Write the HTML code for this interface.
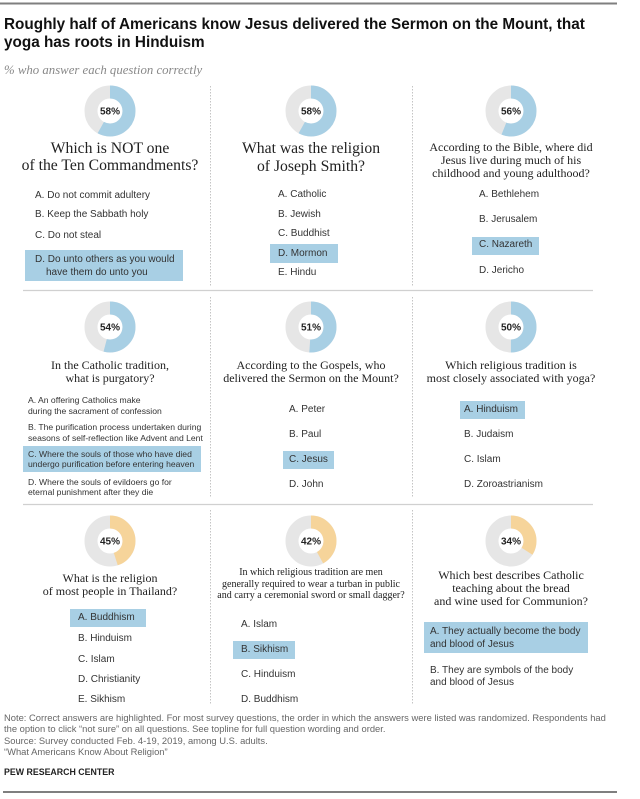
<!DOCTYPE html>
<html><head><meta charset="utf-8">
<style>
html,body{margin:0;padding:0;background:#fff;}
body{width:640px;height:799px;position:relative;overflow:hidden;font-family:"Liberation Sans",Arial,sans-serif;}
.t{position:absolute;white-space:nowrap;height:16px;line-height:16px;}
.c{text-align:center;width:220px;}
.ttl{font-weight:bold;font-size:15.3px;color:#111;left:4px;height:20px;line-height:20px;}
.sub{font-family:"Liberation Serif",serif;font-style:italic;font-size:12.8px;color:#888;left:4px;}
.qb{font-family:"Liberation Serif",serif;font-size:15.7px;color:#222;height:20px;line-height:20px;}
.qm{font-family:"Liberation Serif",serif;font-size:12px;color:#222;}
.qs{font-family:"Liberation Serif",serif;font-size:10px;color:#222;}
.o{font-size:10px;color:#333;}
.os{font-size:8.6px;color:#333;}
.hl{position:absolute;background:#a8cfe4;}
.ft{font-size:9.4px;color:#666;left:4px;}
.pew{font-size:8.8px;font-weight:bold;color:#222;left:4px;}
</style></head><body>

<svg width="640" height="799" style="position:absolute;left:0;top:0">
  <rect x="0" y="2.5" width="617" height="2" fill="#7f7f7f"/>
  <rect x="3" y="791" width="614" height="2" fill="#7f7f7f"/>
  <line x1="23" y1="290.5" x2="593" y2="290.5" stroke="#d0d0d0" stroke-width="1.2"/>
  <line x1="23" y1="504.5" x2="593" y2="504.5" stroke="#d0d0d0" stroke-width="1.2"/>
  <g stroke="#c4c4c4" stroke-width="1" stroke-dasharray="1.5,1.5">
    <line x1="210.5" y1="86" x2="210.5" y2="287"/>
    <line x1="412.5" y1="86" x2="412.5" y2="287"/>
    <line x1="210.5" y1="297" x2="210.5" y2="498"/>
    <line x1="412.5" y1="297" x2="412.5" y2="498"/>
    <line x1="210.5" y1="510" x2="210.5" y2="704"/>
    <line x1="412.5" y1="510" x2="412.5" y2="704"/>
  </g>
  <g fill="none" stroke-width="13">
    <circle cx="110" cy="111" r="19" stroke="#e6e6e6"/>
    <circle cx="110" cy="111" r="19" stroke="#a8cfe4" stroke-dasharray="69.24 200" transform="rotate(-90 110 111)"/>
    <circle cx="311" cy="111" r="19" stroke="#e6e6e6"/>
    <circle cx="311" cy="111" r="19" stroke="#a8cfe4" stroke-dasharray="69.24 200" transform="rotate(-90 311 111)"/>
    <circle cx="511" cy="111" r="19" stroke="#e6e6e6"/>
    <circle cx="511" cy="111" r="19" stroke="#a8cfe4" stroke-dasharray="66.85 200" transform="rotate(-90 511 111)"/>

    <circle cx="110" cy="327" r="19" stroke="#e6e6e6"/>
    <circle cx="110" cy="327" r="19" stroke="#a8cfe4" stroke-dasharray="64.47 200" transform="rotate(-90 110 327)"/>
    <circle cx="311" cy="327" r="19" stroke="#e6e6e6"/>
    <circle cx="311" cy="327" r="19" stroke="#a8cfe4" stroke-dasharray="60.88 200" transform="rotate(-90 311 327)"/>
    <circle cx="511" cy="327" r="19" stroke="#e6e6e6"/>
    <circle cx="511" cy="327" r="19" stroke="#a8cfe4" stroke-dasharray="59.69 200" transform="rotate(-90 511 327)"/>

    <circle cx="110" cy="541" r="19" stroke="#e6e6e6"/>
    <circle cx="110" cy="541" r="19" stroke="#f6d49a" stroke-dasharray="53.72 200" transform="rotate(-90 110 541)"/>
    <circle cx="311" cy="541" r="19" stroke="#e6e6e6"/>
    <circle cx="311" cy="541" r="19" stroke="#f6d49a" stroke-dasharray="50.14 200" transform="rotate(-90 311 541)"/>
    <circle cx="511" cy="541" r="19" stroke="#e6e6e6"/>
    <circle cx="511" cy="541" r="19" stroke="#f6d49a" stroke-dasharray="40.59 200" transform="rotate(-90 511 541)"/>
  </g>
  <g font-family="Liberation Sans, Arial, sans-serif" font-weight="bold" font-size="10" fill="#222" text-anchor="middle">
    <text x="110" y="114.5">58%</text>
    <text x="311" y="114.5">58%</text>
    <text x="511" y="114.5">56%</text>
    <text x="110" y="330.5">54%</text>
    <text x="311" y="330.5">51%</text>
    <text x="511" y="330.5">50%</text>
    <text x="110" y="544.5">45%</text>
    <text x="311" y="544.5">42%</text>
    <text x="511" y="544.5">34%</text>
  </g>
</svg>

<div class="t ttl" style="top:15px">Roughly half of Americans know Jesus delivered the Sermon on the Mount, that</div>
<div class="t ttl" style="top:33px">yoga has roots in Hinduism</div>
<div class="t sub" style="top:62px">% who answer each question correctly</div>

<div class="hl" style="left:25px;top:250px;width:158px;height:31px"></div>
<div class="hl" style="left:270px;top:244px;width:68px;height:19px"></div>
<div class="hl" style="left:472px;top:237px;width:67px;height:18px"></div>
<div class="hl" style="left:23px;top:446px;width:178px;height:26px"></div>
<div class="hl" style="left:283px;top:451px;width:51px;height:18px"></div>
<div class="hl" style="left:460px;top:401px;width:65px;height:18px"></div>
<div class="hl" style="left:70px;top:609px;width:76px;height:18px"></div>
<div class="hl" style="left:233px;top:641px;width:62px;height:18px"></div>
<div class="hl" style="left:424px;top:622px;width:164px;height:31px"></div>

<div class="t c qb" style="left:0px;top:139px">Which is NOT one</div>
<div class="t c qb" style="left:0px;top:156px">of the Ten Commandments?</div>
<div class="t o" style="left:35px;top:188px">A. Do not commit adultery</div>
<div class="t o" style="left:35px;top:207px">B. Keep the Sabbath holy</div>
<div class="t o" style="left:35px;top:228px">C. Do not steal</div>
<div class="t o" style="left:35px;top:252px">D. Do unto others as you would</div>
<div class="t o" style="left:46px;top:265px">have them do unto you</div>

<div class="t c qb" style="left:201px;top:139px">What was the religion</div>
<div class="t c qb" style="left:201px;top:157px">of Joseph Smith?</div>
<div class="t o" style="left:278px;top:187px">A. Catholic</div>
<div class="t o" style="left:278px;top:207px">B. Jewish</div>
<div class="t o" style="left:278px;top:226px">C. Buddhist</div>
<div class="t o" style="left:278px;top:246px">D. Mormon</div>
<div class="t o" style="left:278px;top:265px">E. Hindu</div>

<div class="t c qm" style="left:401px;top:139px">According to the Bible, where did</div>
<div class="t c qm" style="left:401px;top:152px">Jesus live during much of his</div>
<div class="t c qm" style="left:401px;top:165px">childhood and young adulthood?</div>
<div class="t o" style="left:479px;top:187px">A. Bethlehem</div>
<div class="t o" style="left:479px;top:212px">B. Jerusalem</div>
<div class="t o" style="left:479px;top:237px">C. Nazareth</div>
<div class="t o" style="left:479px;top:263px">D. Jericho</div>

<div class="t c qm" style="left:0px;top:357px">In the Catholic tradition,</div>
<div class="t c qm" style="left:0px;top:370px">what is purgatory?</div>
<div class="t os" style="left:28px;top:392px">A. An offering Catholics make</div>
<div class="t os" style="left:28px;top:403px">during the sacrament of confession</div>
<div class="t os" style="left:28px;top:419px">B. The purification process undertaken during</div>
<div class="t os" style="left:28px;top:430px">seasons of self-reflection like Advent and Lent</div>
<div class="t os" style="left:28px;top:446px">C. Where the souls of those who have died</div>
<div class="t os" style="left:28px;top:456px">undergo purification before entering heaven</div>
<div class="t os" style="left:28px;top:474px">D. Where the souls of evildoers go for</div>
<div class="t os" style="left:28px;top:484px">eternal punishment after they die</div>

<div class="t c qm" style="left:201px;top:357px">According to the Gospels, who</div>
<div class="t c qm" style="left:201px;top:370px">delivered the Sermon on the Mount?</div>
<div class="t o" style="left:289px;top:402px">A. Peter</div>
<div class="t o" style="left:289px;top:427px">B. Paul</div>
<div class="t o" style="left:289px;top:452px">C. Jesus</div>
<div class="t o" style="left:289px;top:477px">D. John</div>

<div class="t c qm" style="left:401px;top:357px">Which religious tradition is</div>
<div class="t c qm" style="left:401px;top:370px">most closely associated with yoga?</div>
<div class="t o" style="left:464px;top:402px">A. Hinduism</div>
<div class="t o" style="left:464px;top:427px">B. Judaism</div>
<div class="t o" style="left:464px;top:452px">C. Islam</div>
<div class="t o" style="left:464px;top:477px">D. Zoroastrianism</div>

<div class="t c qm" style="left:0px;top:570px">What is the religion</div>
<div class="t c qm" style="left:0px;top:583px">of most people in Thailand?</div>
<div class="t o" style="left:78px;top:610px">A. Buddhism</div>
<div class="t o" style="left:78px;top:631px">B. Hinduism</div>
<div class="t o" style="left:78px;top:652px">C. Islam</div>
<div class="t o" style="left:78px;top:672px">D. Christianity</div>
<div class="t o" style="left:78px;top:692px">E. Sikhism</div>

<div class="t c qs" style="left:201px;top:565px">In which religious tradition are men</div>
<div class="t c qs" style="left:201px;top:577px">generally required to wear a turban in public</div>
<div class="t c qs" style="left:201px;top:588px">and carry a ceremonial sword or small dagger?</div>
<div class="t o" style="left:241px;top:617px">A. Islam</div>
<div class="t o" style="left:241px;top:642px">B. Sikhism</div>
<div class="t o" style="left:241px;top:667px">C. Hinduism</div>
<div class="t o" style="left:241px;top:692px">D. Buddhism</div>

<div class="t c qm" style="left:401px;top:567px">Which best describes Catholic</div>
<div class="t c qm" style="left:401px;top:580px">teaching about the bread</div>
<div class="t c qm" style="left:401px;top:593px">and wine used for Communion?</div>
<div class="t o" style="left:430px;top:624px">A. They actually become the body</div>
<div class="t o" style="left:430px;top:637px">and blood of Jesus</div>
<div class="t o" style="left:430px;top:663px">B. They are symbols of the body</div>
<div class="t o" style="left:430px;top:675px">and blood of Jesus</div>

<div class="t ft" style="top:710px">Note: Correct answers are highlighted. For most survey questions, the order in which the answers were listed was randomized. Respondents had</div>
<div class="t ft" style="top:721px">the option to click “not sure” on all questions. See topline for full question wording and order.</div>
<div class="t ft" style="top:733px">Source: Survey conducted Feb. 4-19, 2019, among U.S. adults.</div>
<div class="t ft" style="top:744px">“What Americans Know About Religion”</div>
<div class="t pew" style="top:764px">PEW RESEARCH CENTER</div>

</body></html>
